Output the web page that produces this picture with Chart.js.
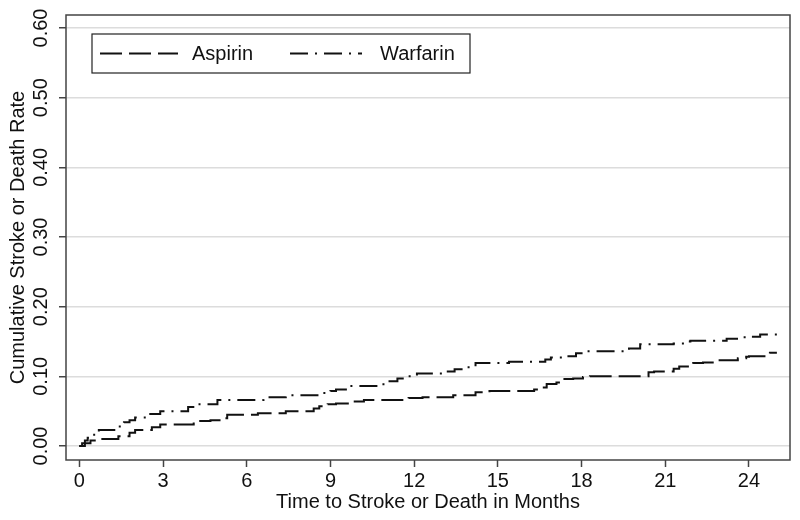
<!DOCTYPE html>
<html lang="en">
<head>
  <meta charset="UTF-8">
  <title>Cumulative Stroke or Death Rate</title>
  <script src="https://cdn.jsdelivr.net/npm/chart.js@4.4.1/dist/chart.umd.min.js"></script>
  <style>
    html, body { margin: 0; padding: 0; background: #fff; }
    .wrap { width: 800px; height: 520px; }
  </style>
</head>
<body>
  <div class="wrap"><canvas id="kmChart" width="800" height="520"></canvas></div>
  <script>
    // step points: time in months, cumulative rate after the step
    const aspirinT = [0, 0.2, 0.4, 0.6, 1.4, 1.8, 2.0, 2.6, 2.9, 4.1, 4.7, 5.1, 5.3, 6.4, 7.4, 8.4, 8.6, 8.9, 9.2, 9.8,
      10.2, 11.8, 12.3, 13.4, 14.2, 14.7, 16.3, 16.5, 16.75, 17.1, 17.3, 17.7, 18.05, 18.3, 20.4, 20.6, 21.3, 21.5,
      22.0, 22.35, 22.85, 23.6, 23.9, 24.0, 24.75, 25.0];
    const aspirinV = [0, 0.004, 0.008, 0.010, 0.014, 0.019, 0.023, 0.027, 0.031, 0.036, 0.037, 0.040, 0.045, 0.047,
      0.050, 0.054, 0.057, 0.060, 0.061, 0.064, 0.066, 0.069, 0.070, 0.073, 0.077, 0.079, 0.081, 0.084, 0.089, 0.091,
      0.096, 0.097, 0.099, 0.100, 0.106, 0.107, 0.111, 0.114, 0.119, 0.120, 0.123, 0.126, 0.128, 0.129, 0.134, 0.134];

    const warfarinT = [0, 0.1, 0.2, 0.3, 0.45, 0.6, 0.7, 1.45, 1.6, 1.8, 2.0, 2.5, 2.9, 3.9, 4.2, 4.95, 6.6, 7.4, 8.7,
      9.0, 9.2, 9.7, 10.9, 11.4, 11.8, 12.1, 13.1, 13.45, 13.7, 14.2, 15.4, 16.7, 16.9, 17.3, 17.8, 18.0, 19.7, 20.1,
      21.3, 21.7, 21.9, 23.2, 23.75, 24.1, 24.4, 25.0];
    const warfarinV = [0, 0.004, 0.008, 0.012, 0.016, 0.020, 0.023, 0.030, 0.034, 0.037, 0.041, 0.046, 0.050, 0.056,
      0.060, 0.066, 0.070, 0.073, 0.076, 0.079, 0.081, 0.086, 0.093, 0.097, 0.100, 0.104, 0.107, 0.110, 0.113, 0.119,
      0.121, 0.124, 0.127, 0.129, 0.133, 0.136, 0.140, 0.146, 0.147, 0.150, 0.151, 0.154, 0.156, 0.157, 0.160, 0.160];

    const xTicks = [0, 3, 6, 9, 12, 15, 18, 21, 24];
    const yTicks = [0, 0.1, 0.2, 0.3, 0.4, 0.5, 0.6];
    const seriesLabels = ['Aspirin', 'Warfarin'];

    const toPoints = (ts, vs) => ts.map((t, i) => ({ x: t, y: vs[i] }));

    Chart.defaults.font.family = '"Liberation Sans", Arial, sans-serif';
    Chart.defaults.font.size = 20;
    Chart.defaults.color = '#111';

    // frame round the plot area, plus the boxed legend inside it
    const framePlugin = {
      id: 'frame',
      afterDatasetsDraw(chart) {
        const { ctx, chartArea: a } = chart;
        ctx.save();
        ctx.strokeStyle = '#444';
        ctx.lineWidth = 1.5;
        ctx.strokeRect(a.left, a.top, a.right - a.left, a.bottom - a.top);

        const bx = a.left + 26, by = a.top + 19, bw = 378, bh = 39;
        ctx.fillStyle = '#fff';
        ctx.fillRect(bx, by, bw, bh);
        ctx.strokeStyle = '#222';
        ctx.lineWidth = 1.2;
        ctx.strokeRect(bx, by, bw, bh);

        const cy = by + bh / 2;
        const items = [
          { ds: chart.data.datasets[0], x0: bx + 8, x1: bx + 86, tx: bx + 100 },
          { ds: chart.data.datasets[1], x0: bx + 198, x1: bx + 270, tx: bx + 288 }
        ];
        items.forEach(it => {
          ctx.strokeStyle = it.ds.borderColor;
          ctx.lineWidth = it.ds.borderWidth;
          ctx.setLineDash(it.ds.borderDash);
          ctx.beginPath();
          ctx.moveTo(it.x0, cy);
          ctx.lineTo(it.x1, cy);
          ctx.stroke();
          ctx.setLineDash([]);
          ctx.fillStyle = '#111';
          ctx.font = '20px "Liberation Sans", Arial, sans-serif';
          ctx.textBaseline = 'middle';
          ctx.textAlign = 'left';
          ctx.fillText(it.ds.label, it.tx, cy + 1);
        });
        ctx.restore();
      }
    };

    const ctx = document.getElementById('kmChart').getContext('2d');
    const kmChart = new Chart(ctx, {
      type: 'line',
      data: {
        datasets: [{
          label: seriesLabels[0],
          data: toPoints(aspirinT, aspirinV),
          borderColor: '#111',
          borderWidth: 2,
          borderDash: [22, 7],
          stepped: 'before',
          pointRadius: 0,
          fill: false
        }, {
          label: seriesLabels[1],
          data: toPoints(warfarinT, warfarinV),
          borderColor: '#111',
          borderWidth: 2,
          borderDash: [18, 7, 2, 7],
          stepped: 'before',
          pointRadius: 0,
          fill: false
        }]
      },
      options: {
        responsive: false,
        animation: false,
        layout: { padding: { left: 0, top: 15, right: 10, bottom: 0 } },
        plugins: { legend: { display: false }, tooltip: { enabled: false } },
        scales: {
          x: {
            type: 'linear',
            min: -0.477,
            max: 25.47,
            afterBuildTicks: s => { s.ticks = xTicks.map(v => ({ value: v })); },
            afterFit: s => { s.height = 60; },
            grid: { drawOnChartArea: false, drawTicks: true, tickLength: 7, tickColor: '#444', tickWidth: 1.5 },
            border: { display: false },
            ticks: { padding: 2, maxRotation: 0, color: '#111' },
            title: { display: true, text: 'Time to Stroke or Death in Months', padding: { top: 0, bottom: 6 }, color: '#111' }
          },
          y: {
            min: -0.0201,
            max: 0.6187,
            afterBuildTicks: s => { s.ticks = yTicks.map(v => ({ value: v })); },
            afterFit: s => { s.width = 66; },
            grid: { color: '#dcdcdc', lineWidth: 1.5, drawTicks: true, tickLength: 7, tickColor: '#444', tickWidth: 1.5 },
            border: { display: false },
            ticks: {
              callback: v => v.toFixed(2),
              minRotation: 90,
              maxRotation: 90,
              crossAlign: 'center',
              padding: -2,
              color: '#111'
            },
            title: { display: true, text: 'Cumulative Stroke or Death Rate', padding: { top: 6, bottom: 0 }, color: '#111' }
          }
        }
      },
      plugins: [framePlugin]
    });
  </script>
</body>
</html>
